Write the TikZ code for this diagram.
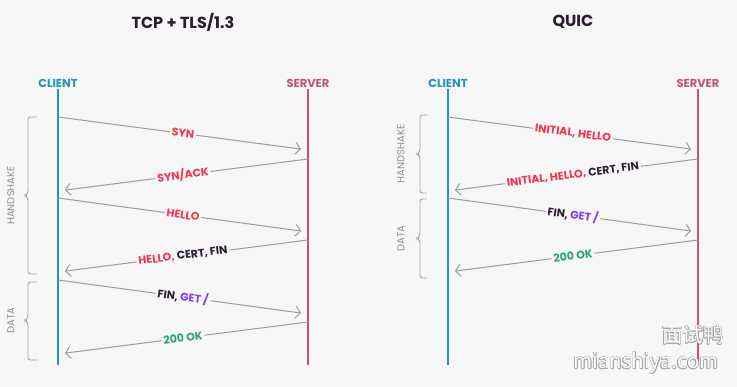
\documentclass[tikz,border=0pt]{standalone}
\usepackage{fontspec}
\setmainfont{Poppins}
\newfontfamily\cjkfont{Noto Sans CJK SC}
\usetikzlibrary{arrows.meta,positioning}

\definecolor{bgcol}{HTML}{F7F7F7}
\definecolor{titlecol}{HTML}{2B1B2E}
\definecolor{clientcol}{HTML}{1E96B4}
\definecolor{servercol}{HTML}{C2527B}
\definecolor{arrowcol}{HTML}{9C9C9C}
\definecolor{bracecol}{HTML}{A6A6A6}
\definecolor{phasecol}{HTML}{8E8E8E}
\definecolor{redcol}{HTML}{F43350}
\definecolor{darkcol}{HTML}{2D1D30}
\definecolor{purplecol}{HTML}{7C3CF2}
\definecolor{greencol}{HTML}{22A67B}

\begin{document}
\begin{tikzpicture}[x=1pt,y=-1pt,
  title/.style={font=\fontsize{16}{18}\selectfont\bfseries,text=titlecol},
  peer/.style={font=\fontsize{11.5}{13}\selectfont\bfseries,inner sep=1.5pt},
  lifeline/.style={line width=1.6pt},
  msg/.style={-{Straight Barb[length=5pt,width=12pt]},line width=1pt,draw=arrowcol,shorten >=7pt},
  msglabel/.style={midway,sloped,fill=bgcol,inner sep=2pt,font=\fontsize{11}{13}\selectfont\bfseries,text=redcol},
  phase/.style={draw=bracecol,line width=0.9pt,rounded corners=2.5pt},
  phaselabel/.style={rotate=90,font=\fontsize{10}{12}\selectfont,text=phasecol},
  watermark/.style={font=\cjkfont\fontsize{20.5}{22}\selectfont}
]

% Background
\fill[bgcol] (0,0) rectangle (737,387);
\useasboundingbox (0,0) rectangle (737,387);

% TCP + TLS/1.3
\node[title] (tcptitle) at (183,22) {TCP + TLS/1.3};
\node[peer,text=clientcol] (tcpclient) at (58,83) {CLIENT};
\node[peer,text=servercol] (tcpserver) at (308,83) {SERVER};
\draw[lifeline,clientcol] (tcpclient.south) -- (tcpclient.south |- 0,365);
\draw[lifeline,servercol] (tcpserver.south) -- (tcpserver.south |- 0,365);

\coordinate (tc1) at (58,117);  \coordinate (ts1) at (308,150);
\coordinate (ts2) at (308,159); \coordinate (tc2) at (58,191);
\coordinate (tc3) at (58,198);  \coordinate (ts3) at (308,232);
\coordinate (ts4) at (308,240); \coordinate (tc4) at (58,272);
\coordinate (tc5) at (58,280);  \coordinate (ts5) at (308,314);
\coordinate (ts6) at (308,322); \coordinate (tc6) at (58,354);

\draw[msg] (tc1) -- node[msglabel] {SYN} (ts1);
\draw[msg] (ts2) -- node[msglabel] {SYN/ACK} (tc2);
\draw[msg] (tc3) -- node[msglabel] {HELLO} (ts3);
\draw[msg] (ts4) -- node[msglabel] {HELLO, \textcolor{darkcol}{CERT, FIN}} (tc4);
\draw[msg] (tc5) -- node[msglabel,text=darkcol] {FIN, \textcolor{purplecol}{GET /}} (ts5);
\draw[msg] (ts6) -- node[msglabel,text=greencol] {200 OK} (tc6);

\draw[phase] (37,117) -- (28,117) -- (28,193) -- (25,195.5) -- (28,198) -- (28,274) -- (37,274);
\node[phaselabel] (tcphs) at (11,195.5) {HANDSHAKE};
\draw[phase] (37,282) -- (28,282) -- (28,318) -- (25,320.5) -- (28,323) -- (28,360) -- (37,360);
\node[phaselabel] (tcpdata) at (11,320.5) {DATA};

% QUIC
\node[title] (quictitle) at (573,22) {QUIC};
\node[peer,text=clientcol] (quicclient) at (448,83) {CLIENT};
\node[peer,text=servercol] (quicserver) at (698,83) {SERVER};
\draw[lifeline,clientcol] (quicclient.south) -- (quicclient.south |- 0,365);
\draw[lifeline,servercol] (quicserver.south) -- (quicserver.south |- 0,365);

\coordinate (qc1) at (448,117); \coordinate (qs1) at (698,150);
\coordinate (qs2) at (698,159); \coordinate (qc2) at (448,191);
\coordinate (qc3) at (448,198); \coordinate (qs3) at (698,232);
\coordinate (qs4) at (698,240); \coordinate (qc4) at (448,272);

\draw[msg] (qc1) -- node[msglabel] {INITIAL, HELLO} (qs1);
\draw[msg] (qs2) -- node[msglabel] {INITIAL, HELLO, \textcolor{darkcol}{CERT, FIN}} (qc2);
\draw[msg] (qc3) -- node[msglabel,text=darkcol] {FIN, \textcolor{purplecol}{GET /}} (qs3);
\draw[msg] (qs4) -- node[msglabel,text=greencol] {200 OK} (qc4);

\draw[phase] (427,115) -- (420,115) -- (420,151.5) -- (417,154) -- (420,156.5) -- (420,193) -- (427,193);
\node[phaselabel] (quichs) at (401,154) {HANDSHAKE};
\draw[phase] (427,199) -- (420,199) -- (420,236) -- (417,238.5) -- (420,241) -- (420,278) -- (427,278);
\node[phaselabel] (quicdata) at (401,238.5) {DATA};

% Watermark
\foreach \dx/\dy in {-0.7/0,0.7/0,0/-0.7,0/0.7,-0.5/-0.5,0.5/0.5,-0.5/0.5,0.5/-0.5} {
  \node[watermark,text=gray!70] at ([xshift=\dx pt,yshift=\dy pt]693,335) {面试鸭};
  \node[watermark,text=gray!70] at ([xshift=\dx pt,yshift=\dy pt]646,363) {mianshiya.com};
}
\node[watermark,text=white] (markcn) at (693,335) {面试鸭};
\node[watermark,text=white] (markurl) at (646,363) {mianshiya.com};

\end{tikzpicture}
\end{document}
